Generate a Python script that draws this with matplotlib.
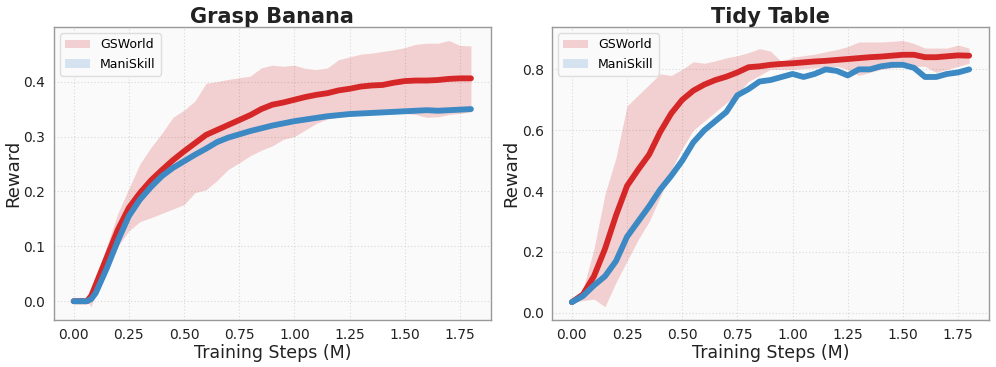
import numpy as np
import matplotlib
matplotlib.use("Agg")
from matplotlib import pyplot as plt
from matplotlib.patches import Patch

# Grasp Banana
gb_x = [0.00, 0.03, 0.06, 0.08, 0.10, 0.15, 0.20, 0.25, 0.30, 0.35, 0.40, 0.45, 0.50, 0.55, 0.60, 0.65, 0.70,
        0.75, 0.80, 0.85, 0.90, 0.95, 1.00, 1.05, 1.10, 1.15, 1.20, 1.25, 1.30, 1.35, 1.40, 1.45, 1.50, 1.55,
        1.60, 1.65, 1.70, 1.75, 1.80]
gb_gs = [0.000, 0.000, 0.000, 0.010, 0.030, 0.080, 0.130, 0.170, 0.197, 0.220, 0.239, 0.257, 0.273, 0.288, 0.303,
         0.312, 0.321, 0.330, 0.339, 0.350, 0.358, 0.362, 0.367, 0.372, 0.376, 0.379, 0.384, 0.387, 0.391, 0.393,
         0.394, 0.398, 0.401, 0.402, 0.402, 0.403, 0.405, 0.406, 0.406]
gb_gs_hi = [0.000, 0.000, 0.000, 0.020, 0.040, 0.100, 0.160, 0.205, 0.250, 0.280, 0.306, 0.335, 0.348, 0.365, 0.397,
            0.400, 0.404, 0.407, 0.410, 0.425, 0.430, 0.428, 0.430, 0.424, 0.422, 0.425, 0.440, 0.445, 0.450, 0.452,
            0.455, 0.458, 0.462, 0.468, 0.470, 0.470, 0.475, 0.466, 0.465]
gb_gs_lo = [0.000, 0.000, 0.000, -0.010, 0.020, 0.060, 0.100, 0.128, 0.145, 0.152, 0.160, 0.168, 0.176, 0.198, 0.203,
            0.220, 0.240, 0.252, 0.265, 0.275, 0.283, 0.295, 0.300, 0.312, 0.324, 0.332, 0.336, 0.338, 0.340, 0.341,
            0.343, 0.343, 0.342, 0.340, 0.335, 0.336, 0.340, 0.342, 0.345]
gb_ms = [0.000, 0.000, 0.000, 0.004, 0.015, 0.060, 0.110, 0.155, 0.185, 0.208, 0.228, 0.243, 0.255, 0.267, 0.278,
         0.290, 0.298, 0.304, 0.310, 0.315, 0.320, 0.324, 0.328, 0.331, 0.334, 0.337, 0.339, 0.341, 0.342, 0.343,
         0.344, 0.345, 0.346, 0.347, 0.348, 0.347, 0.348, 0.349, 0.350]

# Tidy Table
tt_x = [0.00, 0.05, 0.10, 0.15, 0.20, 0.25, 0.30, 0.35, 0.40, 0.45, 0.50, 0.55, 0.60, 0.65, 0.70, 0.75, 0.80,
        0.85, 0.90, 0.95, 1.00, 1.05, 1.10, 1.15, 1.20, 1.25, 1.30, 1.35, 1.40, 1.45, 1.50, 1.55, 1.60, 1.65,
        1.70, 1.75, 1.80]
tt_gs = [0.035, 0.060, 0.120, 0.210, 0.320, 0.417, 0.470, 0.520, 0.594, 0.655, 0.700, 0.730, 0.750, 0.765, 0.776,
         0.790, 0.807, 0.810, 0.815, 0.818, 0.820, 0.823, 0.826, 0.828, 0.831, 0.834, 0.837, 0.840, 0.842, 0.845,
         0.848, 0.848, 0.840, 0.840, 0.843, 0.846, 0.845]
tt_gs_hi = [0.035, 0.075, 0.210, 0.390, 0.510, 0.680, 0.715, 0.750, 0.785, 0.780, 0.800, 0.825, 0.820, 0.828, 0.838,
            0.845, 0.855, 0.868, 0.860, 0.825, 0.840, 0.845, 0.850, 0.858, 0.865, 0.875, 0.890, 0.890, 0.890, 0.892,
            0.895, 0.885, 0.870, 0.870, 0.870, 0.880, 0.870]
tt_gs_lo = [0.035, 0.040, 0.045, 0.020, 0.100, 0.170, 0.240, 0.300, 0.380, 0.470, 0.540, 0.600, 0.630, 0.660, 0.690,
            0.720, 0.760, 0.780, 0.800, 0.800, 0.800, 0.803, 0.805, 0.808, 0.810, 0.800, 0.780, 0.790, 0.800, 0.805,
            0.810, 0.810, 0.810, 0.790, 0.800, 0.810, 0.820]
tt_ms = [0.035, 0.055, 0.090, 0.120, 0.170, 0.250, 0.300, 0.350, 0.405, 0.450, 0.500, 0.560, 0.600, 0.630, 0.660,
         0.715, 0.735, 0.760, 0.765, 0.775, 0.785, 0.775, 0.785, 0.800, 0.795, 0.780, 0.800, 0.800, 0.810, 0.815,
         0.815, 0.805, 0.775, 0.775, 0.785, 0.790, 0.800]

RED = "#d62728"
BLUE = "#3d89c3"

plt.rcParams['font.family'] = ['DejaVu Sans']
fig, axes = plt.subplots(1, 2, figsize=(9.96, 3.67), dpi=100)
fig.subplots_adjust(left=0.054, right=0.993, top=0.926, bottom=0.128, wspace=0.14)

panels = [
    ("Grasp Banana", gb_x, gb_gs, gb_gs_lo, gb_gs_hi, gb_ms, [0.0, 0.1, 0.2, 0.3, 0.4]),
    ("Tidy Table", tt_x, tt_gs, tt_gs_lo, tt_gs_hi, tt_ms, [0.0, 0.2, 0.4, 0.6, 0.8]),
]

for ax, (title, x, gs, lo, hi, ms, yt) in zip(axes, panels):
    ax.set_facecolor("#fafafa")
    ax.fill_between(x, lo, hi, color=RED, alpha=0.2, linewidth=0)
    ms_arr = np.array(ms)
    ax.fill_between(x, ms_arr - 0.004, ms_arr + 0.004, color=BLUE, alpha=0.2, linewidth=0)
    ax.plot(x, gs, color=RED, linewidth=4.2, solid_capstyle='round', solid_joinstyle='round')
    ax.plot(x, ms, color=BLUE, linewidth=4.2, solid_capstyle='round', solid_joinstyle='round')
    ax.set_title(title, fontsize=15, fontweight='bold', color="#222222", pad=3)
    ax.set_xlabel("Training Steps (M)", fontsize=12.5, color="#222222", labelpad=1)
    ax.set_ylabel("Reward", fontsize=13, color="#222222", labelpad=1)
    ax.set_xticks([0.0, 0.25, 0.5, 0.75, 1.0, 1.25, 1.5, 1.75])
    ax.set_xticklabels(["0.00", "0.25", "0.50", "0.75", "1.00", "1.25", "1.50", "1.75"])
    ax.set_yticks(yt)
    ax.tick_params(axis='both', labelsize=10, length=0, pad=6, colors="#222222")
    ax.grid(True, linestyle=(0, (1, 2)), color="#d8d8d8", linewidth=0.8)
    ax.set_axisbelow(True)
    for s in ax.spines.values():
        s.set_color("#999999")
        s.set_linewidth(1.0)
    handles = [Patch(facecolor=RED, alpha=0.2, label="GSWorld"),
               Patch(facecolor=BLUE, alpha=0.2, label="ManiSkill")]
    ax.legend(handles=handles, loc='upper left', fontsize=9, frameon=True,
              edgecolor="#dddddd", facecolor="#fafafa", framealpha=1.0)

fig.savefig("out.png", dpi=100)
